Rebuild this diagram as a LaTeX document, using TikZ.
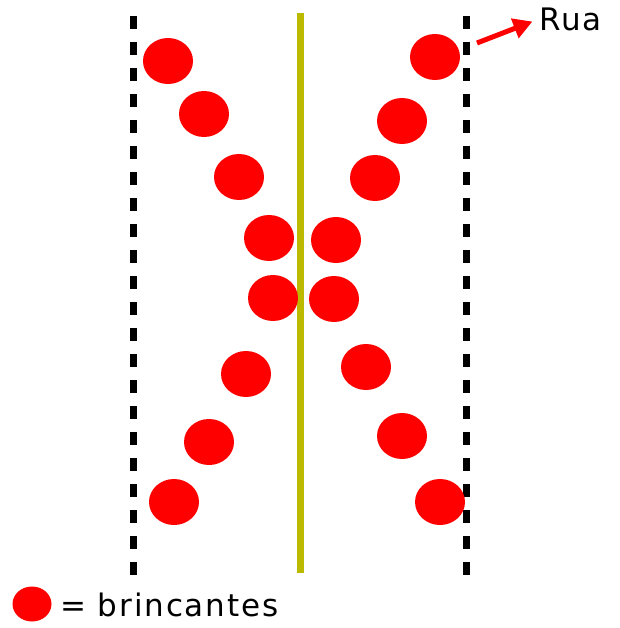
\documentclass[tikz,border=0pt]{standalone}
\usepackage{fontspec}
\setmainfont{DejaVu Sans}
\usetikzlibrary{shapes.geometric,arrows.meta}
\definecolor{dancer}{RGB}{255,0,0}
\definecolor{midline}{RGB}{188,186,0}
\tikzset{
  brincante/.style={ellipse, fill=dancer, draw=none, minimum width=50pt, minimum height=46pt, inner sep=0pt},
  rualine/.style={line width=7pt, dash pattern=on 13pt off 13pt},
  centerline/.style={line width=7pt, draw=midline},
  ruaarrow/.style={draw=dancer, line width=5pt, -{Triangle[length=19pt,width=20pt]}},
  handtext/.style={font=\fontsize{31}{34}\selectfont\addfontfeature{LetterSpace=6}, inner sep=0pt}
}
\begin{document}
\begin{tikzpicture}[x=1pt,y=-1pt]
\useasboundingbox (0,0) rectangle (619,628);
% street borders
\coordinate (lt) at (133,16);
\coordinate (lb) at (133,578);
\coordinate (rt) at (466,16);
\coordinate (rb) at (466,578);
\draw[rualine] (lt) -- (lb);
\draw[rualine] (rt) -- (rb);
% center line
\coordinate (ct) at (300,13);
\coordinate (cb) at (300,573);
\draw[centerline] (ct) -- (cb);
% left file
\node[brincante] (l1) at (168,61) {};
\node[brincante] (l2) at (204,114) {};
\node[brincante] (l3) at (239,177) {};
\node[brincante] (l4) at (269,238) {};
\node[brincante] (l5) at (273,298) {};
\node[brincante] (l6) at (246,374) {};
\node[brincante] (l7) at (209,442) {};
\node[brincante] (l8) at (174,502) {};
% right file
\node[brincante] (r1) at (435,57) {};
\node[brincante] (r2) at (402,121) {};
\node[brincante] (r3) at (375,178) {};
\node[brincante] (r4) at (336,240) {};
\node[brincante] (r5) at (334,299) {};
\node[brincante] (r6) at (366,367) {};
\node[brincante] (r7) at (402,436) {};
\node[brincante] (r8) at (440,502) {};
% Rua label and arrow
\node[handtext, anchor=west] (rua) at (539,19) {Rua};
\coordinate (arrtail) at (477,43);
\draw[ruaarrow, shorten >=7pt] (arrtail) -- (rua.west);
% legend
\node[brincante, minimum width=39pt, minimum height=35pt] (leg) at (32,604) {};
\node[handtext, anchor=west] (legtext) at (60,605) {= brincantes};
\end{tikzpicture}
\end{document}
